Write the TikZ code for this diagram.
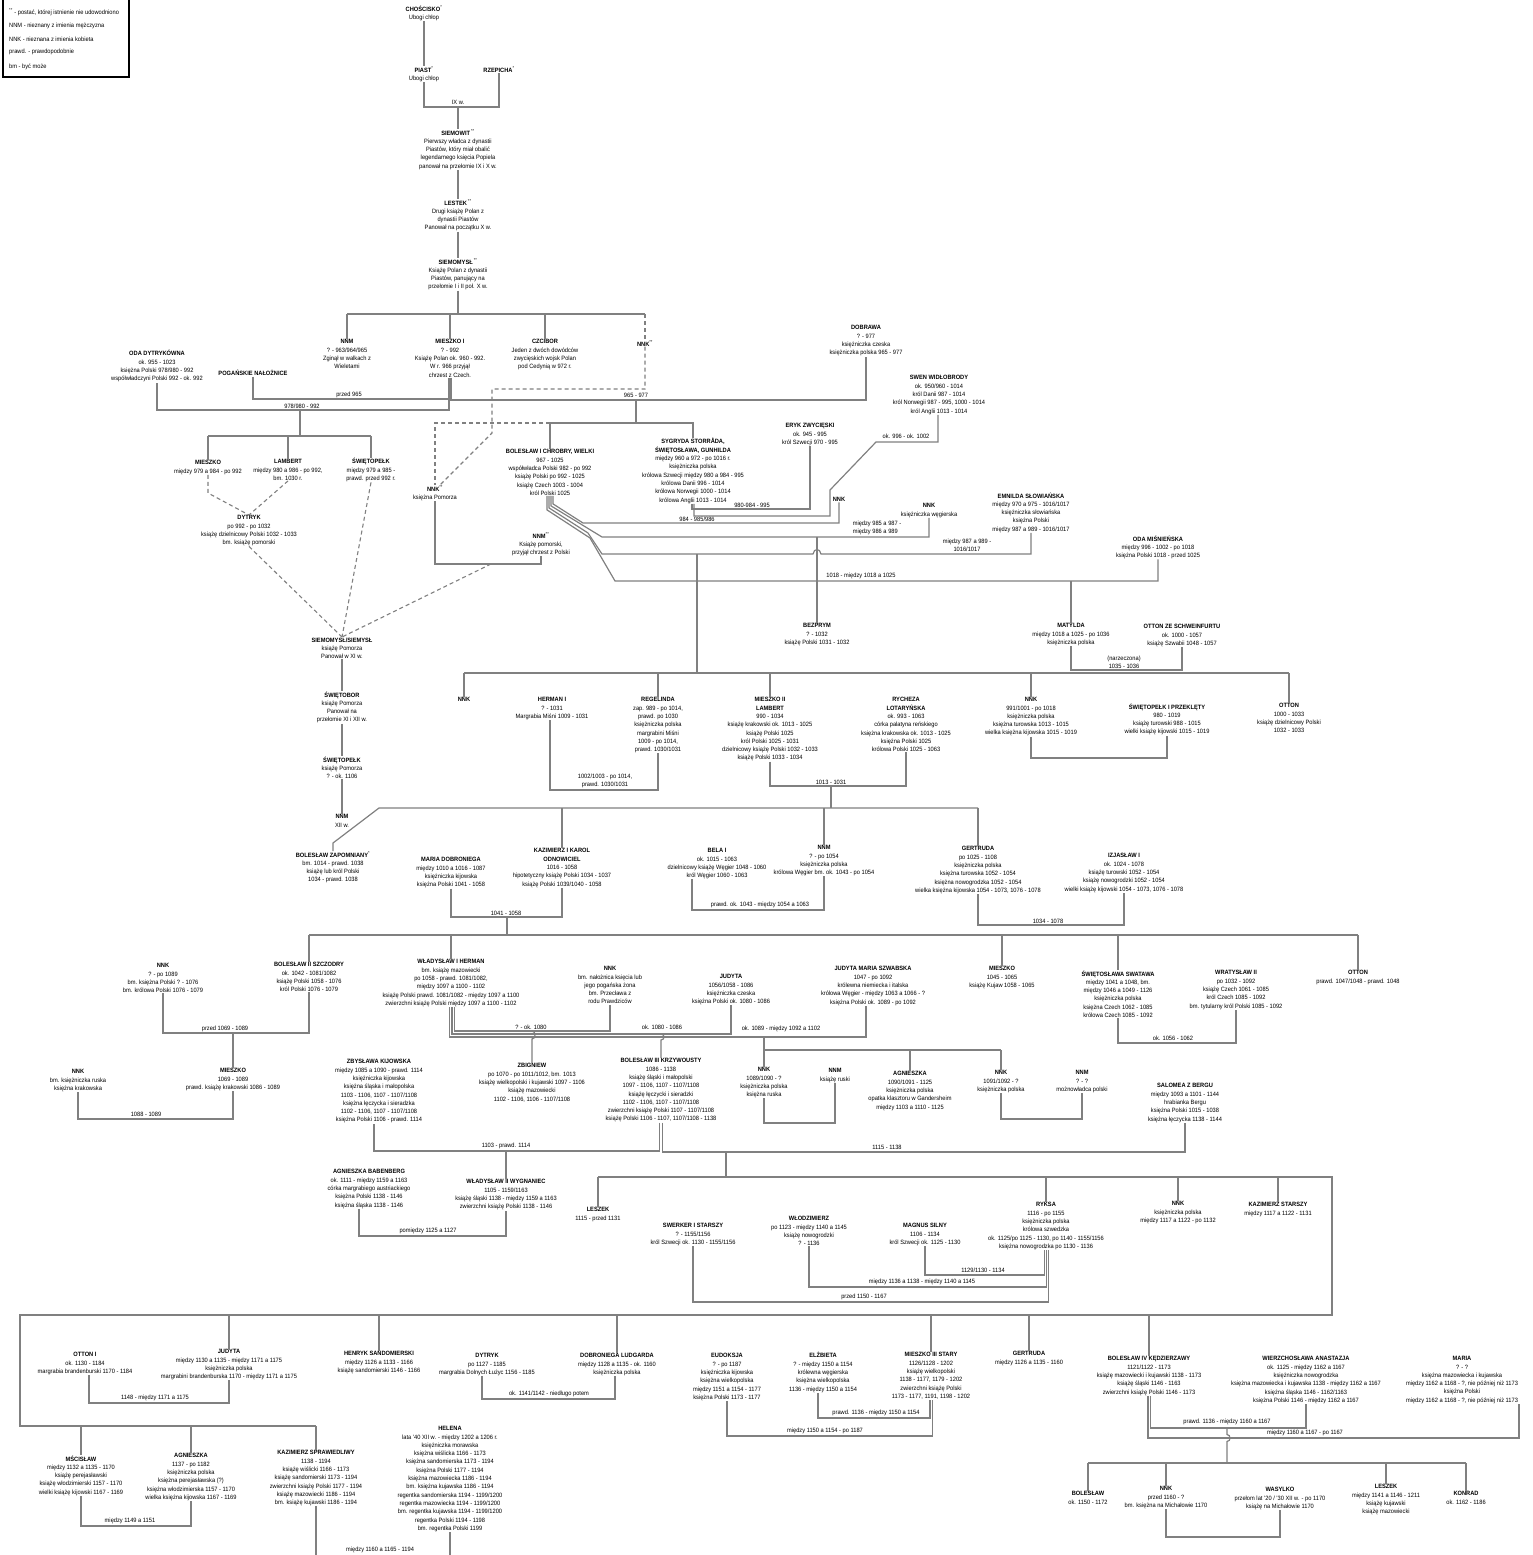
\documentclass[tikz,border=0pt]{standalone}
\usepackage{fontspec}
\setmainfont{Liberation Sans}[FakeStretch=0.92]
\definecolor{lg}{RGB}{128,128,128}
\begin{document}
\begin{tikzpicture}[x=1pt,y=-1pt,
  per/.style={anchor=north,align=center,inner sep=0pt,outer sep=0.5pt,font=\fontsize{6.2}{8.3}\selectfont},
  lab/.style={align=center,inner sep=0pt,font=\fontsize{6.2}{8.3}\selectfont},
  leg/.style={anchor=west,inner sep=0pt,font=\fontsize{6.2}{8.3}\selectfont},
  ln/.style={draw=lg,line width=1.2pt},
  dl/.style={draw=lg,line width=1.1pt,dash pattern=on 4pt off 3pt}]
\useasboundingbox (0,0) rectangle (1533,1555);
% legend
\draw[line width=2.4pt] (3,-8) rectangle (129,77);
\node[leg] (lg1) at (9,12) {\textsuperscript{**} - postać, której istnienie nie udowodniono};
\node[leg] (lg2) at (9,26) {NNM - nieznany z imienia mężczyzna};
\node[leg] (lg3) at (9,39) {NNK - nieznana z imienia kobieta};
\node[leg] (lg4) at (9,52) {prawd. - prawdopodobnie};
\node[leg] (lg5) at (9,67) {bm - być może};
% ---------- persons ----------
\node[per] (chos) at (424,5) {\textbf{CHOŚCISKO}\textsuperscript{*}\\Ubogi chłop};
\node[per] (piast) at (424,66) {\textbf{PIAST}\textsuperscript{*}\\Ubogi chłop};
\node[per] (rzep) at (499,66) {\textbf{RZEPICHA}\textsuperscript{*}};
\node[per] (siemowit) at (458,129) {\textbf{SIEMOWIT}\,\textsuperscript{**}\\Pierwszy władca z dynastii\\Piastów, który miał obalić\\legendarnego księcia Popiela\\panował na przełomie IX i X w.};
\node[per] (lestek) at (458,199) {\textbf{LESTEK}\,\textsuperscript{**}\\Drugi książę Polan z\\dynastii Piastów\\Panował na początku X w.};
\node[per] (siemomysl) at (458,258) {\textbf{SIEMOMYSŁ}\,\textsuperscript{**}\\Książę Polan z dynastii\\Piastów, panujący na\\przełomie I i II poł. X w.};
\node[per] (nnm1) at (347,339) {\textbf{NNM}\\? - 963/964/965\\Zginął w walkach z\\Wieletami};
\node[per] (mieszko1) at (450,339) {\textbf{MIESZKO I}\\? - 992\\Książę Polan ok. 960 - 992.\\W r. 966 przyjął\\chrzest z Czech.};
\node[per] (czcibor) at (545,339) {\textbf{CZCIBOR}\\Jeden z dwóch dowódców\\zwycięskich wojsk Polan\\pod Cedynią w 972 r.};
\node[per] (nnk1) at (645,340) {\textbf{NNK}\textsuperscript{**}};
\node[per] (oda) at (157,350) {\textbf{ODA DYTRYKÓWNA}\\ok. 955 - 1023\\księżna Polski 978/980 - 992\\współwładczyni Polski 992 - ok. 992};
\node[per] (pogan) at (253,370) {\textbf{POGAŃSKIE NAŁOŻNICE}};
\node[per] (dobrawa) at (866,325) {\textbf{DOBRAWA}\\? - 977\\księżniczka czeska\\księżniczka polska 965 - 977};
\node[per] (swen) at (939,375) {\textbf{SWEN WIDŁOBRODY}\\ok. 950/960 - 1014\\król Danii 987 - 1014\\król Norwegii 987 - 995, 1000 - 1014\\król Anglii 1013 - 1014};
\node[per] (eryk) at (810,423) {\textbf{ERYK ZWYCIĘSKI}\\ok. 945 - 995\\król Szwecji 970 - 995};
\node[per] (boleslaw1) at (550,449) {\textbf{BOLESŁAW I CHROBRY, WIELKI}\\967 - 1025\\współwładca Polski 982 - po 992\\książę Polski po 992 - 1025\\książę Czech 1003 - 1004\\król Polski 1025};
\node[per] (sygryda) at (693,438) {\textbf{SYGRYDA STORRÅDA,}\\\textbf{ŚWIĘTOSŁAWA, GUNHILDA}\\między 960 a 972 - po 1016 r.\\księżniczka polska\\królowa Szwecji między 980 a 984 - 995\\królowa Danii 996 - 1014\\królowa Norwegii 1000 - 1014\\królowa Anglii 1013 - 1014};
\node[per] (nnkpom) at (435,485) {\textbf{NNK}\textsuperscript{**}\\księżna Pomorza};
\node[per] (nnmpom) at (541,532) {\textbf{NNM}\textsuperscript{**}\\Książę pomorski,\\przyjął chrzest z Polski};
\node[per] (mieszkoA) at (208,460) {\textbf{MIESZKO}\\między 979 a 984 - po 992};
\node[per] (lambert) at (288,459) {\textbf{LAMBERT}\\między 980 a 986 - po 992,\\bm. 1030 r.};
\node[per] (swietopelkA) at (371,458) {\textbf{ŚWIĘTOPEŁK}\\między 979 a 985 -\\prawd. przed 992 r.};
\node[per] (dytryk) at (249,515) {\textbf{DYTRYK}\\po 992 - po 1032\\książę dzielnicowy Polski 1032 - 1033\\bm. książę pomorski};
\node[per] (siemysl) at (342,637) {\textbf{SIEMOMYSŁ/SIEMYSŁ}\\książę Pomorza\\Panował w XI w.};
\node[per] (swietobor) at (342,691) {\textbf{ŚWIĘTOBOR}\\książę Pomorza\\Panował na\\przełomie XI i XII w.};
\node[per] (swietopelkB) at (342,756) {\textbf{ŚWIĘTOPEŁK}\\książę Pomorza\\? - ok. 1106};
\node[per] (nnmB) at (342,814) {\textbf{NNM}\\XII w.};
\node[per] (nnkC) at (839,497) {\textbf{NNK}};
\node[per] (nnkW) at (929,503) {\textbf{NNK}\\księżniczka węgierska};
\node[per] (emnilda) at (1031,492) {\textbf{EMNILDA SŁOWIAŃSKA}\\między 970 a 975 - 1016/1017\\księżniczka słowiańska\\księżna Polski\\między 987 a 989 - 1016/1017};
\node[per] (odaM) at (1158,535) {\textbf{ODA MIŚNIEŃSKA}\\między 996 - 1002 - po 1018\\księżna Polski 1018 - przed 1025};
\node[per] (bezprym) at (817,623) {\textbf{BEZPRYM}\\? - 1032\\książę Polski 1031 - 1032};
\node[per] (matylda) at (1071,623) {\textbf{MATYLDA}\\między 1018 a 1025 - po 1036\\księżniczka polska};
\node[per] (otto) at (1182,624) {\textbf{OTTON ZE SCHWEINFURTU}\\ok. 1000 - 1057\\książę Szwabii 1048 - 1057};
\node[per] (nnkD) at (464,697) {\textbf{NNK}};
\node[per] (herman) at (552,697) {\textbf{HERMAN I}\\? - 1031\\Margrabia Miśni 1009 - 1031};
\node[per] (regelinda) at (658,697) {\textbf{REGELINDA}\\zap. 989 - po 1014,\\prawd. po 1030\\księżniczka polska\\margrabini Miśni\\1009 - po 1014,\\prawd. 1030/1031};
\node[per] (mieszko2) at (770,697) {\textbf{MIESZKO II}\\\textbf{LAMBERT}\\990 - 1034\\książę krakowski ok. 1013 - 1025\\książę Polski 1025\\król Polski 1025 - 1031\\dzielnicowy książę Polski 1032 - 1033\\książę Polski 1033 - 1034};
\node[per] (rycheza) at (906,697) {\textbf{RYCHEZA}\\\textbf{LOTARYŃSKA}\\ok. 993 - 1063\\córka palatyna reńskiego\\księżna krakowska ok. 1013 - 1025\\księżna Polski 1025\\królowa Polski 1025 - 1063};
\node[per] (nnkE) at (1031,697) {\textbf{NNK}\\991/1001 - po 1018\\księżniczka polska\\księżna turowska 1013 - 1015\\wielka księżna kijowska 1015 - 1019};
\node[per] (swietopelkI) at (1167,703) {\textbf{ŚWIĘTOPEŁK I PRZEKLĘTY}\\980 - 1019\\książę turowski 988 - 1015\\wielki książę kijowski 1015 - 1019};
\node[per] (ottonA) at (1289,703) {\textbf{OTTON}\\1000 - 1033\\książę dzielnicowy Polski\\1032 - 1033};
\node[per] (zapomniany) at (333,851) {\textbf{BOLESŁAW ZAPOMNIANY}\textsuperscript{*}\\bm. 1014 - prawd. 1038\\książę lub król Polski\\1034 - prawd. 1038};
\node[per] (maria) at (451,857) {\textbf{MARIA DOBRONIEGA}\\między 1010 a 1016 - 1087\\księżniczka kijowska\\księżna Polski 1041 - 1058};
\node[per] (kazimierz1) at (562,848) {\textbf{KAZIMIERZ I KAROL}\\\textbf{ODNOWICIEL}\\1016 - 1058\\hipotetyczny książę Polski 1034 - 1037\\książę Polski 1039/1040 - 1058};
\node[per] (bela) at (717,848) {\textbf{BELA I}\\ok. 1015 - 1063\\dzielnicowy książę Węgier 1048 - 1060\\król Węgier 1060 - 1063};
\node[per] (nnmF) at (824,845) {\textbf{NNM}\\? - po 1054\\księżniczka polska\\królowa Węgier bm. ok. 1043 - po 1054};
\node[per] (gertruda) at (978,846) {\textbf{GERTRUDA}\\po 1025 - 1108\\księżniczka polska\\księżna turowska 1052 - 1054\\księżna nowogrodzka 1052 - 1054\\wielka księżna kijowska 1054 - 1073, 1076 - 1078};
\node[per] (izjaslaw) at (1124,853) {\textbf{IZJASŁAW I}\\ok. 1024 - 1078\\książę turowski 1052 - 1054\\książę nowogrodzki 1052 - 1054\\wielki książę kijowski 1054 - 1073, 1076 - 1078};
\node[per] (nnkG) at (163,963) {\textbf{NNK}\\? - po 1089\\bm. księżna Polski ? - 1076\\bm. królowa Polski 1076 - 1079};
\node[per] (boleslaw2) at (309,962) {\textbf{BOLESŁAW II SZCZODRY}\\ok. 1042 - 1081/1082\\książę Polski 1058 - 1076\\król Polski 1076 - 1079};
\node[per] (mieszkoH) at (233,1068) {\textbf{MIESZKO}\\1069 - 1089\\prawd. książę krakowski 1086 - 1089};
\node[per] (nnkH) at (78,1069) {\textbf{NNK}\\bm. księżniczka ruska\\księżna krakowska};
\node[per] (wladyslaw1) at (451,959) {\textbf{WŁADYSŁAW I HERMAN}\\bm. książę mazowiecki\\po 1058 - prawd. 1081/1082,\\między 1097 a 1100 - 1102\\książę Polski prawd. 1081/1082 - między 1097 a 1100\\zwierzchni książę Polski między 1097 a 1100 - 1102};
\node[per] (nnkI) at (610,966) {\textbf{NNK}\\bm. nałożnica księcia lub\\jego pogańska żona\\bm. Przecława z\\rodu Prawdziców};
\node[per] (judyta1) at (731,974) {\textbf{JUDYTA}\\1056/1058 - 1086\\księżniczka czeska\\księżna Polski ok. 1080 - 1086};
\node[per] (judytaM) at (873,966) {\textbf{JUDYTA MARIA SZWABSKA}\\1047 - po 1092\\królewna niemiecka i italska\\królowa Węgier - między 1063 a 1066 - ?\\księżna Polski ok. 1089 - po 1092};
\node[per] (mieszkoJ) at (1002,966) {\textbf{MIESZKO}\\1045 - 1065\\książę Kujaw 1058 - 1065};
\node[per] (swatawa) at (1118,970) {\textbf{ŚWIĘTOSŁAWA SWATAWA}\\między 1041 a 1048, bm.\\między 1046 a 1049 - 1126\\księżniczka polska\\księżna Czech 1062 - 1085\\królowa Czech 1085 - 1092};
\node[per] (wratyslaw) at (1236,970) {\textbf{WRATYSŁAW II}\\po 1032 - 1092\\książę Czech 1061 - 1085\\król Czech 1085 - 1092\\bm. tytularny król Polski 1085 - 1092};
\node[per] (ottonK) at (1358,970) {\textbf{OTTON}\\prawd. 1047/1048 - prawd. 1048};
\node[per] (zbigniew) at (532,1063) {\textbf{ZBIGNIEW}\\po 1070 - po 1011/1012, bm. 1013\\książę wielkopolski i kujawski 1097 - 1106\\książę mazowiecki\\1102 - 1106, 1106 - 1107/1108};
\node[per] (krzywousty) at (661,1058) {\textbf{BOLESŁAW III KRZYWOUSTY}\\1086 - 1138\\książę śląski i małopolski\\1097 - 1106, 1107 - 1107/1108\\książę łęczycki i sieradzki\\1102 - 1106, 1107 - 1107/1108\\zwierzchni książę Polski 1107 - 1107/1108\\książę Polski 1106 - 1107, 1107/1108 - 1138};
\node[per] (zbyslawa) at (379,1059) {\textbf{ZBYSŁAWA KIJOWSKA}\\między 1085 a 1090 - prawd. 1114\\księżniczka kijowska\\księżna śląska i małopolska\\1103 - 1106, 1107 - 1107/1108\\księżna łęczycka i sieradzka\\1102 - 1106, 1107 - 1107/1108\\księżna Polski 1106 - prawd. 1114};
\node[per] (nnkL) at (764,1067) {\textbf{NNK}\\1089/1090 - ?\\księżniczka polska\\księżna ruska};
\node[per] (nnmL) at (835,1068) {\textbf{NNM}\\książę ruski};
\node[per] (agnieszkaL) at (910,1071) {\textbf{AGNIESZKA}\\1090/1091 - 1125\\księżniczka polska\\opatka klasztoru w Gandersheim\\między 1103 a 1110 - 1125};
\node[per] (nnkM) at (1001,1070) {\textbf{NNK}\\1091/1092 - ?\\księżniczka polska};
\node[per] (nnmM) at (1082,1070) {\textbf{NNM}\\? - ?\\możnowładca polski};
\node[per] (salomea) at (1185,1083) {\textbf{SALOMEA Z BERGU}\\między 1093 a 1101 - 1144\\hrabianka Bergu\\księżna Polski 1015 - 1038\\księżna łęczycka 1138 - 1144};
\node[per] (agnieszkaB) at (369,1169) {\textbf{AGNIESZKA BABENBERG}\\ok. 1111 - między 1159 a 1163\\córka margrabiego austriackiego\\księżna Polski 1138 - 1146\\księżna śląska 1138 - 1146};
\node[per] (wladyslaw2) at (506,1179) {\textbf{WŁADYSŁAW II WYGNANIEC}\\1105 - 1159/1163\\książę śląski 1138 - między 1159 a 1163\\zwierzchni książę Polski 1138 - 1146};
\node[per] (leszek1) at (598,1207) {\textbf{LESZEK}\\1115 - przed 1131};
\node[per] (swerker) at (693,1223) {\textbf{SWERKER I STARSZY}\\? - 1155/1156\\król Szwecji ok. 1130 - 1155/1156};
\node[per] (wlodzimierz) at (809,1216) {\textbf{WŁODZIMIERZ}\\po 1123 - między 1140 a 1145\\książę nowogrodzki\\? - 1136};
\node[per] (magnus) at (925,1223) {\textbf{MAGNUS SILNY}\\1106 - 1134\\król Szwecji ok. 1125 - 1130};
\node[per] (ryksa) at (1046,1202) {\textbf{RYKSA}\\1116 - po 1155\\księżniczka polska\\królowa szwedzka\\ok. 1125/po 1125 - 1130, po 1140 - 1155/1156\\księżna nowogrodzka po 1130 - 1136};
\node[per] (nnkN) at (1178,1201) {\textbf{NNK}\\księżniczka polska\\między 1117 a 1122 - po 1132};
\node[per] (kazimierzS) at (1278,1202) {\textbf{KAZIMIERZ STARSZY}\\między 1117 a 1122 - 1131};
\node[per] (otton1) at (85,1352) {\textbf{OTTON I}\\ok. 1130 - 1184\\margrabia brandenburski 1170 - 1184};
\node[per] (judyta2) at (229,1349) {\textbf{JUDYTA}\\między 1130 a 1135 - między 1171 a 1175\\księżniczka polska\\margrabini brandenburska 1170 - między 1171 a 1175};
\node[per] (henryk) at (379,1351) {\textbf{HENRYK SANDOMIERSKI}\\między 1126 a 1133 - 1166\\książę sandomierski 1146 - 1166};
\node[per] (dytryk2) at (487,1353) {\textbf{DYTRYK}\\po 1127 - 1185\\margrabia Dolnych Łużyc 1156 - 1185};
\node[per] (dobroniega) at (617,1353) {\textbf{DOBRONIEGA LUDGARDA}\\między 1128 a 1135 - ok. 1160\\księżniczka polska};
\node[per] (mscislaw) at (81,1455) {\textbf{MŚCISŁAW}\\między 1132 a 1135 - 1170\\książę perejasławski\\książę włodzimierski 1157 - 1170\\wielki książę kijowski 1167 - 1169};
\node[per] (agnieszka2) at (191,1453) {\textbf{AGNIESZKA}\\1137 - po 1182\\księżniczka polska\\księżna perejasławska (?)\\księżna włodzimierska 1157 - 1170\\wielka księżna kijowska 1167 - 1169};
\node[per] (kazimierz2) at (316,1450) {\textbf{KAZIMIERZ SPRAWIEDLIWY}\\1138 - 1194\\książę wiślicki 1166 - 1173\\książę sandomierski 1173 - 1194\\zwierzchni książę Polski 1177 - 1194\\książę mazowiecki 1186 - 1194\\bm. książę kujawski 1186 - 1194};
\node[per] (helena) at (450,1426) {\textbf{HELENA}\\lata '40 XII w. - między 1202 a 1206 r.\\księżniczka morawska\\księżna wiślicka 1166 - 1173\\księżna sandomierska 1173 - 1194\\księżna Polski 1177 - 1194\\księżna mazowiecka 1186 - 1194\\bm. księżna kujawska 1186 - 1194\\regentka sandomierska 1194 - 1199/1200\\regentka mazowiecka 1194 - 1199/1200\\bm. regentka kujawska 1194 - 1199/1200\\regentka Polski 1194 - 1198\\bm. regentka Polski 1199};
\node[per] (eudoksja) at (727,1353) {\textbf{EUDOKSJA}\\? - po 1187\\księżniczka kijowska\\księżna wielkopolska\\między 1151 a 1154 - 1177\\księżna Polski 1173 - 1177};
\node[per] (elzbieta) at (823,1352) {\textbf{ELŻBIETA}\\? - między 1150 a 1154\\królewna węgierska\\księżna wielkopolska\\1136 - między 1150 a 1154};
\node[per] (mieszko3) at (931,1352) {\textbf{MIESZKO III STARY}\\1126/1128 - 1202\\książę wielkopolski\\1138 - 1177, 1179 - 1202\\zwierzchni książę Polski\\1173 - 1177, 1191, 1198 - 1202};
\node[per] (gertruda2) at (1029,1351) {\textbf{GERTRUDA}\\między 1126 a 1135 - 1160};
\node[per] (boleslaw4) at (1149,1356) {\textbf{BOLESŁAW IV KĘDZIERZAWY}\\1121/1122 - 1173\\książę mazowiecki i kujawski 1138 - 1173\\książę śląski 1146 - 1163\\zwierzchni książę Polski 1146 - 1173};
\node[per] (wierzchoslawa) at (1306,1356) {\textbf{WIERZCHOSŁAWA ANASTAZJA}\\ok. 1125 - między 1162 a 1167\\księżniczka nowogrodzka\\księżna mazowiecka i kujawska 1138 - między 1162 a 1167\\księżna śląska 1146 - 1162/1163\\księżna Polski 1146 - między 1162 a 1167};
\node[per] (mariaO) at (1462,1356) {\textbf{MARIA}\\? - ?\\księżna mazowiecka i kujawska\\między 1162 a 1168 - ?, nie później niż 1173\\księżna Polski\\między 1162 a 1168 - ?, nie później niż 1173};
\node[per] (boleslawP) at (1088,1491) {\textbf{BOLESŁAW}\\ok. 1150 - 1172};
\node[per] (nnkP) at (1166,1486) {\textbf{NNK}\\przed 1160 - ?\\bm. księżna na Michałowie 1170};
\node[per] (wasylko) at (1280,1487) {\textbf{WASYLKO}\\przełom lat '20 / '30 XII w. - po 1170\\książę na Michałowie 1170};
\node[per] (leszek2) at (1386,1484) {\textbf{LESZEK}\\między 1141 a 1146 - 1211\\książę kujawski\\książę mazowiecki};
\node[per] (konrad) at (1466,1491) {\textbf{KONRAD}\\ok. 1162 - 1186};
% ---------- labels ----------
\node[lab] (l1) at (458,102) {IX w.};
\node[lab] (l2) at (349,395) {przed 965};
\node[lab] (l3) at (636,395) {965 - 977};
\node[lab] (l4) at (302,406) {978/980 - 992};
\node[lab] (l5) at (752,505) {980-984 - 995};
\node[lab] (l6) at (906,436) {ok. 996 - ok. 1002};
\node[lab] (l7) at (697,519) {984 - 985/986};
\node[lab,align=left] (l8) at (877,528) {między 985 a 987 -\\między 986 a 989};
\node[lab] (l9) at (967,545) {między 987 a 989 -\\1016/1017};
\node[lab] (l10) at (861,576) {1018 - między 1018 a 1025};
\node[lab] (l11) at (1124,662) {(narzeczona)\\1035 - 1036};
\node[lab] (l12) at (605,781) {1002/1003 - po 1014,\\prawd. 1030/1031};
\node[lab] (l13) at (831,782) {1013 - 1031};
\node[lab] (l14) at (506,913) {1041 - 1058};
\node[lab] (l15) at (760,905) {prawd. ok. 1043 - między 1054 a 1063};
\node[lab] (l16) at (1048,921) {1034 - 1078};
\node[lab] (l17) at (225,1029) {przed 1069 - 1089};
\node[lab] (l18) at (146,1114) {1088 - 1089};
\node[lab] (l19) at (531,1027) {? - ok. 1080};
\node[lab] (l20) at (662,1027) {ok. 1080 - 1086};
\node[lab] (l21) at (781,1029) {ok. 1089 - między 1092 a 1102};
\node[lab] (l22) at (1173,1038) {ok. 1056 - 1062};
\node[lab] (l23) at (506,1146) {1103 - prawd. 1114};
\node[lab] (l24) at (887,1147) {1115 - 1138};
\node[lab] (l25) at (428,1231) {pomiędzy 1125 a 1127};
\node[lab] (l26) at (983,1270) {1129/1130 - 1134};
\node[lab] (l27) at (922,1282) {między 1136 a 1138 - między 1140 a 1145};
\node[lab] (l28) at (864,1297) {przed 1150 - 1167};
\node[lab] (l29) at (155,1398) {1148 - między 1171 a 1175};
\node[lab] (l30) at (549,1394) {ok. 1141/1142 - niedługo potem};
\node[lab] (l31) at (130,1521) {między 1149 a 1151};
\node[lab] (l32) at (380,1550) {między 1160 a 1165 - 1194};
\node[lab] (l33) at (876,1413) {prawd. 1136 - między 1150 a 1154};
\node[lab] (l34) at (825,1431) {między 1150 a 1154 - po 1187};
\node[lab] (l35) at (1227,1422) {prawd. 1136 - między 1160 a 1167};
\node[lab] (l36) at (1305,1433) {między 1160 a 1167 - po 1167};
% ---------- coordinates ----------
\coordinate (c1) at (458,107);
\coordinate (c2) at (636,400);
\coordinate (c3) at (300,410);
\coordinate (c4) at (491,564);
\coordinate (c5) at (697,554);
\coordinate (c6) at (831,786);
\coordinate (c7) at (507,917);
\coordinate (c8) at (764,1037);
\coordinate (c9) at (1227,1428);
\coordinate (kR) at (1332,1177);
\coordinate (kRb) at (1332,1315);
\coordinate (kL) at (20,1315);
\coordinate (kLb) at (20,1426);
% ---------- connectors: legendary line ----------
\draw[ln] (chos.south) -- (piast.north);
\draw[ln] (piast.south) -- (piast.south |- 0,107) -- (rzep.south |- 0,107) -- (rzep.south);
\draw[ln] (c1) -- (siemowit.north);
\draw[ln] (siemowit.south) -- (lestek.north);
\draw[ln] (lestek.south) -- (siemomysl.north);
\draw[ln] (siemomysl.south) -- (siemomysl.south |- 0,314);
\draw[ln] (nnm1.north |- 0,314) -- (nnk1.north |- 0,314);
\foreach \n in {nnm1,mieszko1,czcibor} \draw[ln] (\n.north |- 0,314) -- (\n.north);
\draw[dl] (nnk1.north |- 0,314) -- (nnk1.north);
\draw[dl] (nnk1.south) -- (nnk1.south |- 0,389) -- (492,389) -- (492,433) -- ([xshift=5pt]nnkpom.north);
% Mieszko I marriages
\draw[ln] ([xshift=-1pt]mieszko1.south) -- ([xshift=-1pt]mieszko1.south |- 0,410) -- (oda.south |- 0,410) -- (oda.south);
\draw[ln] ([xshift=1pt]mieszko1.south) -- ([xshift=1pt]mieszko1.south |- 0,400) -- (dobrawa.south |- 0,400) -- (dobrawa.south);
\draw[ln] (pogan.south) -- (pogan.south |- 0,399) -- ([xshift=-1pt]mieszko1.south |- 0,399);
% children of Mieszko I & Dobrawa
\draw[ln] (c2) -- (c2 |- 0,423);
\draw[ln] (boleslaw1.north) -- (boleslaw1.north |- 0,423) -- (sygryda.north |- 0,423) -- (sygryda.north);
\draw[dl] (boleslaw1.north |- 0,423) -- (nnkpom.north |- 0,423) -- (nnkpom.north);
% children of Mieszko I & Oda
\draw[ln] (c3) -- (c3 |- 0,436);
\draw[ln] (mieszkoA.north |- 0,436) -- (swietopelkA.north |- 0,436);
\foreach \n in {mieszkoA,lambert,swietopelkA} \draw[ln] (\n.north |- 0,436) -- (\n.north);
\draw[dl] (mieszkoA.south) -- (mieszkoA.south |- 0,493) -- (dytryk.north);
\draw[dl] (lambert.south) -- (dytryk.north);
\draw[dl] (dytryk.south) -- (siemysl.north);
\draw[dl] (swietopelkA.south) -- (siemysl.north);
\draw[dl] (c4) -- (siemysl.north);
% Pomerania
\draw[ln] (nnkpom.south) -- (nnkpom.south |- c4) -- (nnmpom.south |- c4) -- (nnmpom.south);
\draw[ln] (siemysl.south) -- (swietobor.north);
\draw[ln] (swietobor.south) -- (swietopelkB.north);
\draw[ln] (swietopelkB.south) -- (nnmB.north);
% Sygryda
\draw[ln] ([xshift=-1pt]sygryda.south) -- ([xshift=-1pt]sygryda.south |- 0,509) -- (eryk.south |- 0,509) -- (eryk.south);
\draw[ln] ([xshift=1pt]sygryda.south) -- ([xshift=1pt]sygryda.south |- 0,516) -- (830,516) -- (830,490) -- (876,442) -- ([xshift=-1pt]swen.south |- 0,442) -- ([xshift=-1pt]swen.south);
% Boleslaw I marriages
\draw[ln] ([xshift=3pt]boleslaw1.south) -- +(0,8) -- (583,523) -- (nnkC.south |- 0,523) -- (nnkC.south);
\draw[ln] ([xshift=1pt]boleslaw1.south) -- +(0,10) -- (602,537) -- (nnkW.south |- 0,537) -- (nnkW.south);
\draw[ln] ([xshift=-1pt]boleslaw1.south) -- +(0,12) -- (588,533) -- (602,554) -- (813,554) .. controls (814,548) and (820,548) .. (821,554) -- (emnilda.south |- 0,554) -- (emnilda.south);
\draw[ln] ([xshift=-3pt]boleslaw1.south) -- +(0,14) -- (590,538) -- (615,581) -- (odaM.south |- 0,581) -- (odaM.south);
\draw[ln] (bezprym.north |- 0,537) -- (bezprym.north);
\draw[ln] (c5) -- (c5 |- 0,673);
\draw[ln] (matylda.north |- 0,581) -- (matylda.north);
\draw[ln] (matylda.south) -- (matylda.south |- 0,670) -- (otto.south |- 0,670) -- (otto.south);
% children of Boleslaw I & Emnilda
\draw[ln] (nnkD.north |- 0,673) -- (ottonA.north |- 0,673);
\foreach \n in {nnkD,regelinda,mieszko2,nnkE,ottonA} \draw[ln] (\n.north |- 0,673) -- (\n.north);
\draw[ln] ([xshift=-2pt]herman.south) -- ([xshift=-2pt]herman.south |- 0,790) -- (regelinda.south |- 0,790) -- (regelinda.south);
\draw[ln] (mieszko2.south) -- (mieszko2.south |- c6) -- (rycheza.south |- c6) -- (rycheza.south);
\draw[ln] (nnkE.south) -- (nnkE.south |- 0,758) -- (swietopelkI.south |- 0,758) -- (swietopelkI.south);
% children of Mieszko II
\draw[ln] (c6) -- (c6 |- 0,808);
\draw[ln] (zapomniany.north) -- (333,843) -- (379,808) -- (gertruda.north |- 0,808);
\foreach \n in {kazimierz1,nnmF,gertruda} \draw[ln] (\n.north |- 0,808) -- (\n.north);
\draw[ln] (maria.south) -- (maria.south |- c7) -- (kazimierz1.south |- c7) -- (kazimierz1.south);
\draw[ln] ([xshift=-25pt]bela.south) -- ([xshift=-25pt]bela.south |- 0,910) -- (nnmF.south |- 0,910) -- (nnmF.south);
\draw[ln] (gertruda.south) -- (gertruda.south |- 0,925) -- (izjaslaw.south |- 0,925) -- (izjaslaw.south);
% children of Kazimierz I
\draw[ln] (c7) -- (c7 |- 0,935);
\draw[ln] (boleslaw2.north |- 0,935) -- (ottonK.north |- 0,935);
\foreach \n in {boleslaw2,wladyslaw1,mieszkoJ,swatawa,ottonK} \draw[ln] (\n.north |- 0,935) -- (\n.north);
\draw[ln] (nnkG.south) -- (nnkG.south |- 0,1033) -- (boleslaw2.south |- 0,1033) -- (boleslaw2.south);
\draw[ln] (mieszkoH.north |- 0,1033) -- (mieszkoH.north);
\draw[ln] (nnkH.south) -- (nnkH.south |- 0,1119) -- (mieszkoH.south |- 0,1119) -- (mieszkoH.south);
\draw[ln] (swatawa.south) -- (swatawa.south |- 0,1043) -- (wratyslaw.south |- 0,1043) -- (wratyslaw.south);
% Wladyslaw Herman marriages
\draw[ln] ([xshift=3.5pt]wladyslaw1.south) -- ([xshift=3.5pt]wladyslaw1.south |- 0,1031) -- (nnkI.south |- 0,1031) -- (nnkI.south);
\draw[ln] ([xshift=1pt]wladyslaw1.south) -- ([xshift=1pt]wladyslaw1.south |- 0,1034) -- (judyta1.south |- 0,1034) -- (judyta1.south);
\draw[ln] ([xshift=-1.5pt]wladyslaw1.south) -- ([xshift=-1.5pt]wladyslaw1.south |- c8) -- ([xshift=-7pt]judytaM.south |- c8) -- ([xshift=-7pt]judytaM.south);
\draw[ln] (zbigniew.north |- 0,1031) .. controls (536,1031) and (536,1039) .. (zbigniew.north |- 0,1039) -- (zbigniew.north);
\draw[ln] (krzywousty.north |- 0,1034) .. controls (665,1034) and (665,1040) .. (krzywousty.north |- 0,1040) -- (krzywousty.north);
\draw[ln] (c8) -- (c8 |- 0,1050);
\draw[ln] (nnkL.north |- 0,1050) -- (nnkM.north |- 0,1050);
\foreach \n in {nnkL,agnieszkaL,nnkM} \draw[ln] (\n.north |- 0,1050) -- (\n.north);
\draw[ln] (nnkL.south) -- (nnkL.south |- 0,1123) -- (nnmL.south |- 0,1123) -- (nnmL.south);
\draw[ln] (nnkM.south) -- (nnkM.south |- 0,1119) -- (nnmM.south |- 0,1119) -- (nnmM.south);
% Krzywousty marriages
\draw[ln] ([xshift=-1.5pt]krzywousty.south) -- ([xshift=-1.5pt]krzywousty.south |- 0,1151) -- ([xshift=-5pt]zbyslawa.south |- 0,1151) -- ([xshift=-5pt]zbyslawa.south);
\draw[ln] ([xshift=1.5pt]krzywousty.south) -- ([xshift=1.5pt]krzywousty.south |- 0,1152) -- (salomea.south |- 0,1152) -- (salomea.south);
\draw[ln] (wladyslaw2.north |- 0,1151) -- (wladyslaw2.north);
\draw[ln] ([xshift=-10pt]agnieszkaB.south) -- ([xshift=-10pt]agnieszkaB.south |- 0,1236) -- (wladyslaw2.south |- 0,1236) -- (wladyslaw2.south);
% children of Krzywousty & Salomea
\draw[ln] (726,1152) -- (726,1177);
\draw[ln] (leszek1.north |- kR) -- (kR) -- (kRb) -- (kL) -- (kLb) -- (kazimierz2.north |- kLb);
\foreach \n in {leszek1,ryksa,nnkN,kazimierzS} \draw[ln] (\n.north |- kR) -- (\n.north);
\foreach \n in {judyta2,henryk,dobroniega,mieszko3,gertruda2,boleslaw4} \draw[ln] (\n.north |- kL) -- (\n.north);
\foreach \n in {mscislaw,agnieszka2,kazimierz2} \draw[ln] (\n.north |- kLb) -- (\n.north);
% Ryksa marriages
\draw[ln] ([xshift=-1.5pt]ryksa.south) -- ([xshift=-1.5pt]ryksa.south |- 0,1275) -- (magnus.south |- 0,1275) -- (magnus.south);
\draw[ln] ([xshift=0.5pt]ryksa.south) -- ([xshift=0.5pt]ryksa.south |- 0,1287) -- (wlodzimierz.south |- 0,1287) -- (wlodzimierz.south);
\draw[ln] ([xshift=2.5pt]ryksa.south) -- ([xshift=2.5pt]ryksa.south |- 0,1302) -- (swerker.south |- 0,1302) -- (swerker.south);
% bottom marriages
\draw[ln] ([xshift=4pt]otton1.south) -- ([xshift=4pt]otton1.south |- 0,1403) -- (judyta2.south |- 0,1403) -- (judyta2.south);
\draw[ln] ([xshift=-5pt]dytryk2.south) -- ([xshift=-5pt]dytryk2.south |- 0,1399) -- ([xshift=-2pt]dobroniega.south |- 0,1399) -- ([xshift=-2pt]dobroniega.south);
\draw[ln] (mscislaw.south) -- (mscislaw.south |- 0,1526) -- (agnieszka2.south |- 0,1526) -- (agnieszka2.south);
\draw[ln] (kazimierz2.south) -- (kazimierz2.south |- 0,1565) -- (helena.south |- 0,1565) -- (helena.south);
\draw[ln] ([xshift=-5pt]elzbieta.south) -- ([xshift=-5pt]elzbieta.south |- 0,1418) -- ([xshift=-1pt]mieszko3.south |- 0,1418) -- ([xshift=-1pt]mieszko3.south);
\draw[ln] (eudoksja.south) -- (eudoksja.south |- 0,1436) -- ([xshift=1.5pt]mieszko3.south |- 0,1436) -- ([xshift=1.5pt]mieszko3.south);
\draw[ln] ([xshift=1.5pt]boleslaw4.south) -- ([xshift=1.5pt]boleslaw4.south |- c9) -- (wierzchoslawa.south |- c9) -- (wierzchoslawa.south);
\draw[ln] ([xshift=-1pt]boleslaw4.south) -- ([xshift=-1pt]boleslaw4.south |- 0,1438) -- ([xshift=57pt]mariaO.south |- 0,1438) -- ([xshift=57pt]mariaO.south);
\draw[ln] (c9) -- (c9 |- 0,1434.5) .. controls (1231,1434.5) and (1231,1441.5) .. (c9 |- 0,1441.5) -- (c9 |- 0,1463);
\draw[ln] (boleslawP.north |- 0,1463) -- (konrad.north |- 0,1463);
\foreach \n in {boleslawP,nnkP,leszek2,konrad} \draw[ln] (\n.north |- 0,1463) -- (\n.north);
\draw[ln] (nnkP.south) -- (nnkP.south |- 0,1537) -- (wasylko.south |- 0,1537) -- (wasylko.south);
\end{tikzpicture}
\end{document}
